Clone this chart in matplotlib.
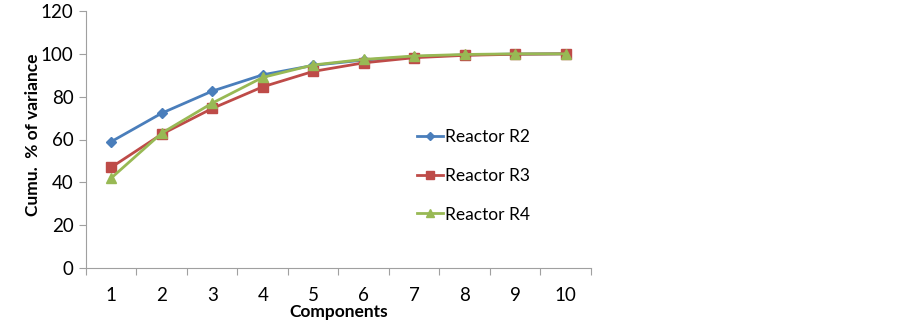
import numpy as np
import matplotlib
matplotlib.use("Agg")
import matplotlib.pyplot as plt

plt.rcParams["font.family"] = ["Lato", "DejaVu Sans"]

components = [1, 2, 3, 4, 5, 6, 7, 8, 9, 10]
r2 = [59.0, 72.3, 82.6, 90.2, 94.6, 97.1, 98.7, 99.5, 99.9, 100.0]
r3 = [47.0, 62.5, 74.5, 84.6, 91.8, 95.8, 98.2, 99.3, 99.8, 100.0]
r4 = [42.0, 63.0, 77.0, 89.0, 94.8, 97.4, 99.0, 99.7, 100.0, 100.0]

fig = plt.figure(figsize=(9.03, 3.28), dpi=100)
ax = fig.add_axes([86 / 903, 60 / 328, 505 / 903, 257 / 328])

x = np.arange(1, len(components) + 1)
ax.plot(x, r2, color="#4a7ebb", marker="D", markersize=5, linewidth=2, label="Reactor R2")
ax.plot(x, r3, color="#be4b48", marker="s", markersize=7, linewidth=2, label="Reactor R3")
ax.plot(x, r4, color="#98b954", marker="^", markersize=7, linewidth=2, label="Reactor R4")

ax.set_xlim(0.5, len(components) + 0.5)
ax.set_ylim(0, 120)
ax.set_yticks(range(0, 121, 20))
ax.tick_params(axis="y", labelsize=13.5, length=5, color="#a0a0a0", pad=4)

ax.set_xticks(np.arange(0.5, len(components) + 1, 1.0))
ax.set_xticklabels([])
ax.tick_params(axis="x", which="major", length=5, color="#a0a0a0")
ax.set_xticks(x, minor=True)
ax.set_xticklabels([str(c) for c in components], minor=True)
ax.tick_params(axis="x", which="minor", length=0, labelsize=13.5, pad=14)

for s in ["top", "right"]:
    ax.spines[s].set_visible(False)
for s in ["left", "bottom"]:
    ax.spines[s].set_color("#a0a0a0")

ax.set_xlabel("Components", fontsize=12.5, fontweight="bold", labelpad=0)
ax.set_ylabel("Cumu.  % of variance", fontsize=12.5, fontweight="bold")
ax.yaxis.set_label_coords(-0.09, 0.52)

ax.legend(loc="upper left", bbox_to_anchor=(0.625, 0.6), frameon=False, fontsize=12.5,
          labelspacing=1.3, handlelength=1.5, handletextpad=0.1, markerscale=0.8)

fig.savefig("out.png", dpi=100)
